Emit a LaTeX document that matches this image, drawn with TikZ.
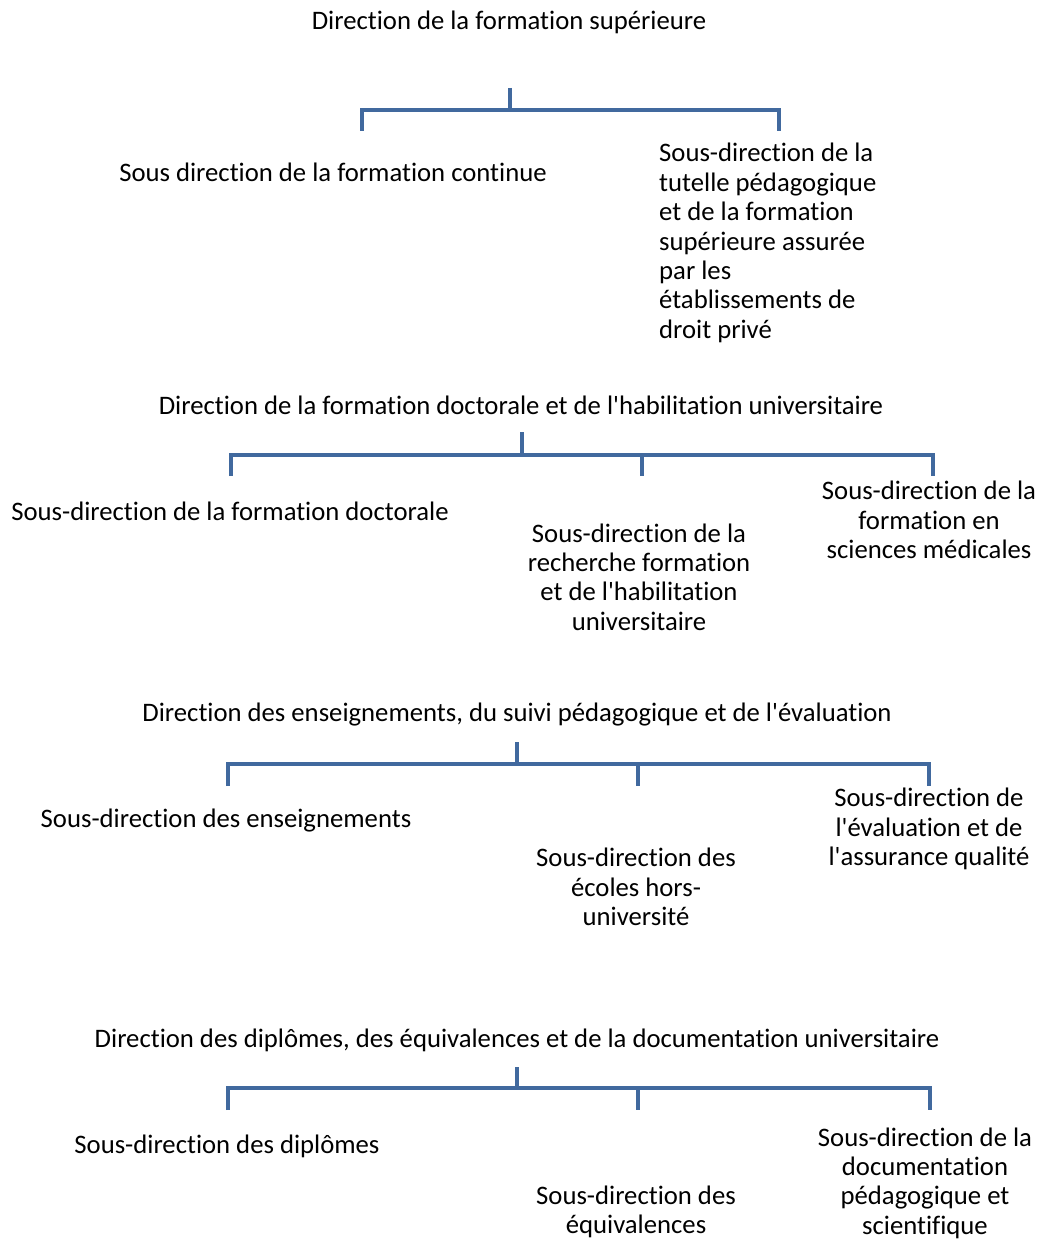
\documentclass[tikz,border=0pt]{standalone}
\usepackage{fontspec}
\setmainfont{Carlito}[Ligatures=NoCommon]
\definecolor{linkblue}{RGB}{65,105,158}
\tikzset{
    mytitle/.style = {inner sep=0pt, align=center, font=\fontsize{26.7}{29.4}\selectfont, text=black},
    mysub/.style = {inner sep=0pt, align=center, font=\fontsize{26.7}{29.4}\selectfont, text=black},
    mysubl/.style = {inner sep=0pt, align=left, font=\fontsize{26.7}{29.4}\selectfont, text=black},
    edgeo/.style = {-, line width=4pt, draw=linkblue, line join=miter},
}
\begin{document}
\begin{tikzpicture}[x=1pt,y=-1pt]
\path[use as bounding box] (0,0) rectangle (1043,1241);

% first direction
\node[mytitle] at (509,22) (d1) {Direction de la formation supérieure};
\node[mysub] at (333,172) (s1a) {Sous direction de la formation continue};
\node[mysubl, anchor=west] at (659,243) (s1b) {Sous-direction de la\\tutelle pédagogique\\et de la formation\\supérieure assurée\\par les\\établissements de\\droit privé};
\coordinate (k1) at (510,88);
\coordinate (j1) at (510,110);
\coordinate (l1a) at (362,110);
\coordinate (l1b) at (779,110);
\coordinate (e1a) at (362,131);
\coordinate (e1b) at (779,131);
\draw[edgeo] (k1) -- (j1);
\draw[edgeo] (e1a) -- (l1a) -- (l1b) -- (e1b);

% second direction
\node[mytitle] at (521,405) (d2) {Direction de la formation doctorale et de l\textquotesingle habilitation universitaire};
\node[mysub] at (230,511) (s2a) {Sous-direction de la formation doctorale};
\node[mysub] at (639,577) (s2b) {Sous-direction de la\\recherche formation\\et de l\textquotesingle habilitation\\universitaire};
\node[mysub] at (929,520) (s2c) {Sous-direction de la\\formation en\\sciences médicales};
\coordinate (k2) at (522,432);
\coordinate (j2) at (522,455);
\coordinate (l2a) at (231,455);
\coordinate (l2c) at (933,455);
\coordinate (m2) at (642,455);
\coordinate (e2a) at (231,476);
\coordinate (e2b) at (642,476);
\coordinate (e2c) at (933,476);
\draw[edgeo] (k2) -- (j2);
\draw[edgeo] (e2a) -- (l2a) -- (l2c) -- (e2c);
\draw[edgeo] (m2) -- (e2b);

% third direction
\node[mytitle] at (517,715) (d3) {Direction des enseignements, du suivi pédagogique et de l\textquotesingle évaluation};
\node[mysub] at (226,821) (s3a) {Sous-direction des enseignements};
\node[mysub] at (636,887) (s3b) {Sous-direction des\\écoles hors-\\université};
\node[mysub] at (929,829) (s3c) {Sous-direction de\\l\textquotesingle évaluation et de\\l\textquotesingle assurance qualité};
\coordinate (k3) at (517,742);
\coordinate (j3) at (517,764);
\coordinate (l3a) at (228,764);
\coordinate (l3c) at (929,764);
\coordinate (m3) at (638,764);
\coordinate (e3a) at (228,786);
\coordinate (e3b) at (638,786);
\coordinate (e3c) at (929,786);
\draw[edgeo] (k3) -- (j3);
\draw[edgeo] (e3a) -- (l3a) -- (l3c) -- (e3c);
\draw[edgeo] (m3) -- (e3b);

% fourth direction
\node[mytitle] at (517,1040) (d4) {Direction des diplômes, des équivalences et de la documentation universitaire};
\node[mysub] at (227,1146) (s4a) {Sous-direction des diplômes};
\node[mysub] at (636,1212) (s4b) {Sous-direction des\\équivalences};
\node[mysub] at (925,1183) (s4c) {Sous-direction de la\\documentation\\pédagogique et\\scientifique};
\coordinate (k4) at (517,1067);
\coordinate (j4) at (517,1088);
\coordinate (l4a) at (228,1088);
\coordinate (l4c) at (930,1088);
\coordinate (m4) at (638,1088);
\coordinate (e4a) at (228,1110);
\coordinate (e4b) at (638,1110);
\coordinate (e4c) at (930,1110);
\draw[edgeo] (k4) -- (j4);
\draw[edgeo] (e4a) -- (l4a) -- (l4c) -- (e4c);
\draw[edgeo] (m4) -- (e4b);

\end{tikzpicture}
\end{document}
